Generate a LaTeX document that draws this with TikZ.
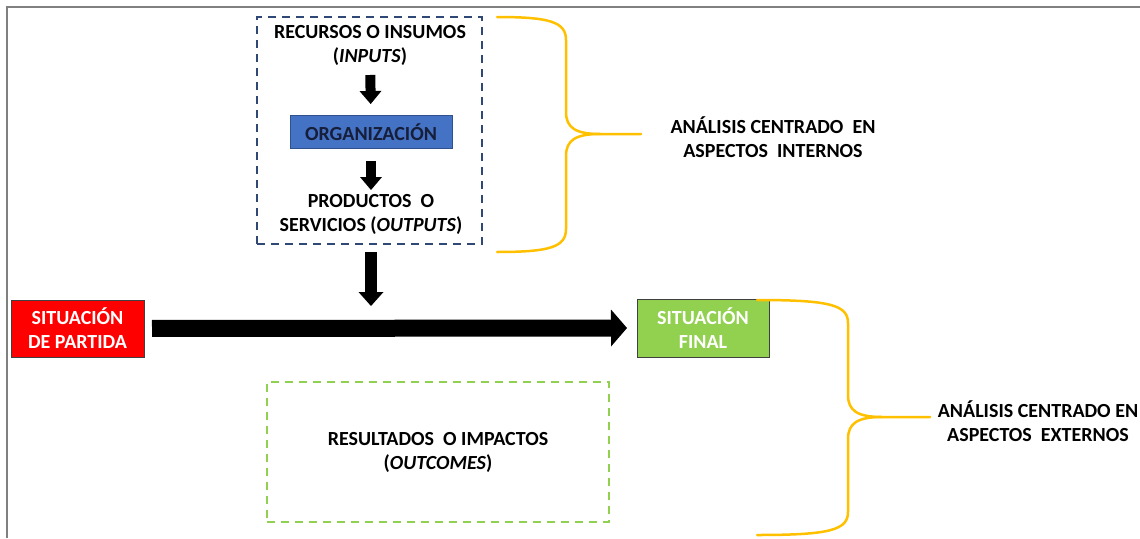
\documentclass[tikz,border=0pt]{standalone}
\usepackage{fontspec}
\setmainfont{Carlito}
\usetikzlibrary{arrows.meta,positioning}

\definecolor{frameGray}{RGB}{128,128,128}
\definecolor{intBlue}{RGB}{47,72,118}
\definecolor{orgBlue}{RGB}{68,114,196}
\definecolor{orgEdge}{RGB}{47,82,143}
\definecolor{orgText}{RGB}{22,30,58}
\definecolor{startRed}{RGB}{255,0,0}
\definecolor{endGreen}{RGB}{146,208,80}
\definecolor{braceGold}{RGB}{255,192,0}

\tikzset{
  lbl/.style={font=\fontsize{20}{24}\selectfont\bfseries, align=center, text=black},
  fillbox/.style={lbl, draw=black!75, line width=1pt, outer sep=0pt},
  dashbox/.style={draw=#1, line width=2pt, dash pattern=on 8pt off 6pt, outer sep=0pt},
  blockarr/.style={line width=#1, draw=black},
  brace/.style={draw=braceGold, line width=2.5pt, line cap=round},
}

\begin{document}
\begin{tikzpicture}[x=1pt, y=-1pt]
\useasboundingbox (0,0) rectangle (1140,538);

% frame
\draw[frameGray, line width=1.5pt] (7,538) -- (7,7) -- (1140,7);

%% internal block
\node[dashbox=intBlue, minimum width=225pt, minimum height=227pt] (int) at (369.5,130.5) {};
\node[lbl] (inputs) at (370,45) {RECURSOS O INSUMOS\\(\textit{INPUTS})};
\node[fillbox, fill=orgBlue, draw=orgEdge, text=orgText, minimum width=162pt, minimum height=33pt] (org) at (371,132) {ORGANIZACIÓN};
\node[lbl] (outputs) at (371,214) {PRODUCTOS \ O\\SERVICIOS (\textit{OUTPUTS})};

\draw[blockarr=10pt, -{Triangle[length=13pt,width=22pt,line width=0pt]}, shorten <=30pt, shorten >=28pt] (inputs.center) -- (org.center);
\draw[blockarr=10pt, -{Triangle[length=13pt,width=22pt,line width=0pt]}, shorten <=29pt, shorten >=24pt] (org.center) -- (outputs.center);

%% main line
\node[fillbox, fill=startRed, text=white, minimum width=133pt, minimum height=57pt] (start) at (77.5,328.5) {SITUACIÓN\\DE PARTIDA};
\node[fillbox, fill=endGreen, text=white, minimum width=132pt, minimum height=58pt] (final) at (703,328) {SITUACIÓN\\FINAL};
\coordinate (hit) at (371,306);

\draw[blockarr=12pt, -{Triangle[length=14pt,width=25pt,line width=0pt]}, shorten <=8pt] (int.south -| hit) -- (hit);
\draw[blockarr=17pt, -{Triangle[length=16pt,width=37pt,line width=0pt]}, shorten <=8pt, shorten >=10pt] (start.east) -- (final.west);

%% external block
\node[dashbox=endGreen, lbl, minimum width=342pt, minimum height=140pt] (ext) at (438,452) {RESULTADOS \ O IMPACTOS\\(\textit{OUTCOMES})};

%% braces
\draw[brace] (497,17) .. controls (550,17) and (566,22) .. (566,40) -- (566,112)
  .. controls (566,128) and (576,134) .. (600,134) -- (641,134);
\draw[brace] (600,134) .. controls (576,134) and (566,140) .. (566,156) -- (566,229)
  .. controls (566,247) and (550,252) .. (497,252);
\node[lbl] (intlbl) at (773,137) {ANÁLISIS CENTRADO \ EN\\ASPECTOS \ INTERNOS};

\draw[brace] (757,300) .. controls (830,300) and (848,305) .. (848,323) -- (848,395)
  .. controls (848,411) and (858,417) .. (882,417) -- (930,417);
\draw[brace] (882,417) .. controls (858,417) and (848,423) .. (848,439) -- (848,512)
  .. controls (848,530) and (830,535) .. (757,535);
\node[lbl] (extlbl) at (1038,421) {ANÁLISIS CENTRADO EN\\ASPECTOS \ EXTERNOS};

\end{tikzpicture}
\end{document}
